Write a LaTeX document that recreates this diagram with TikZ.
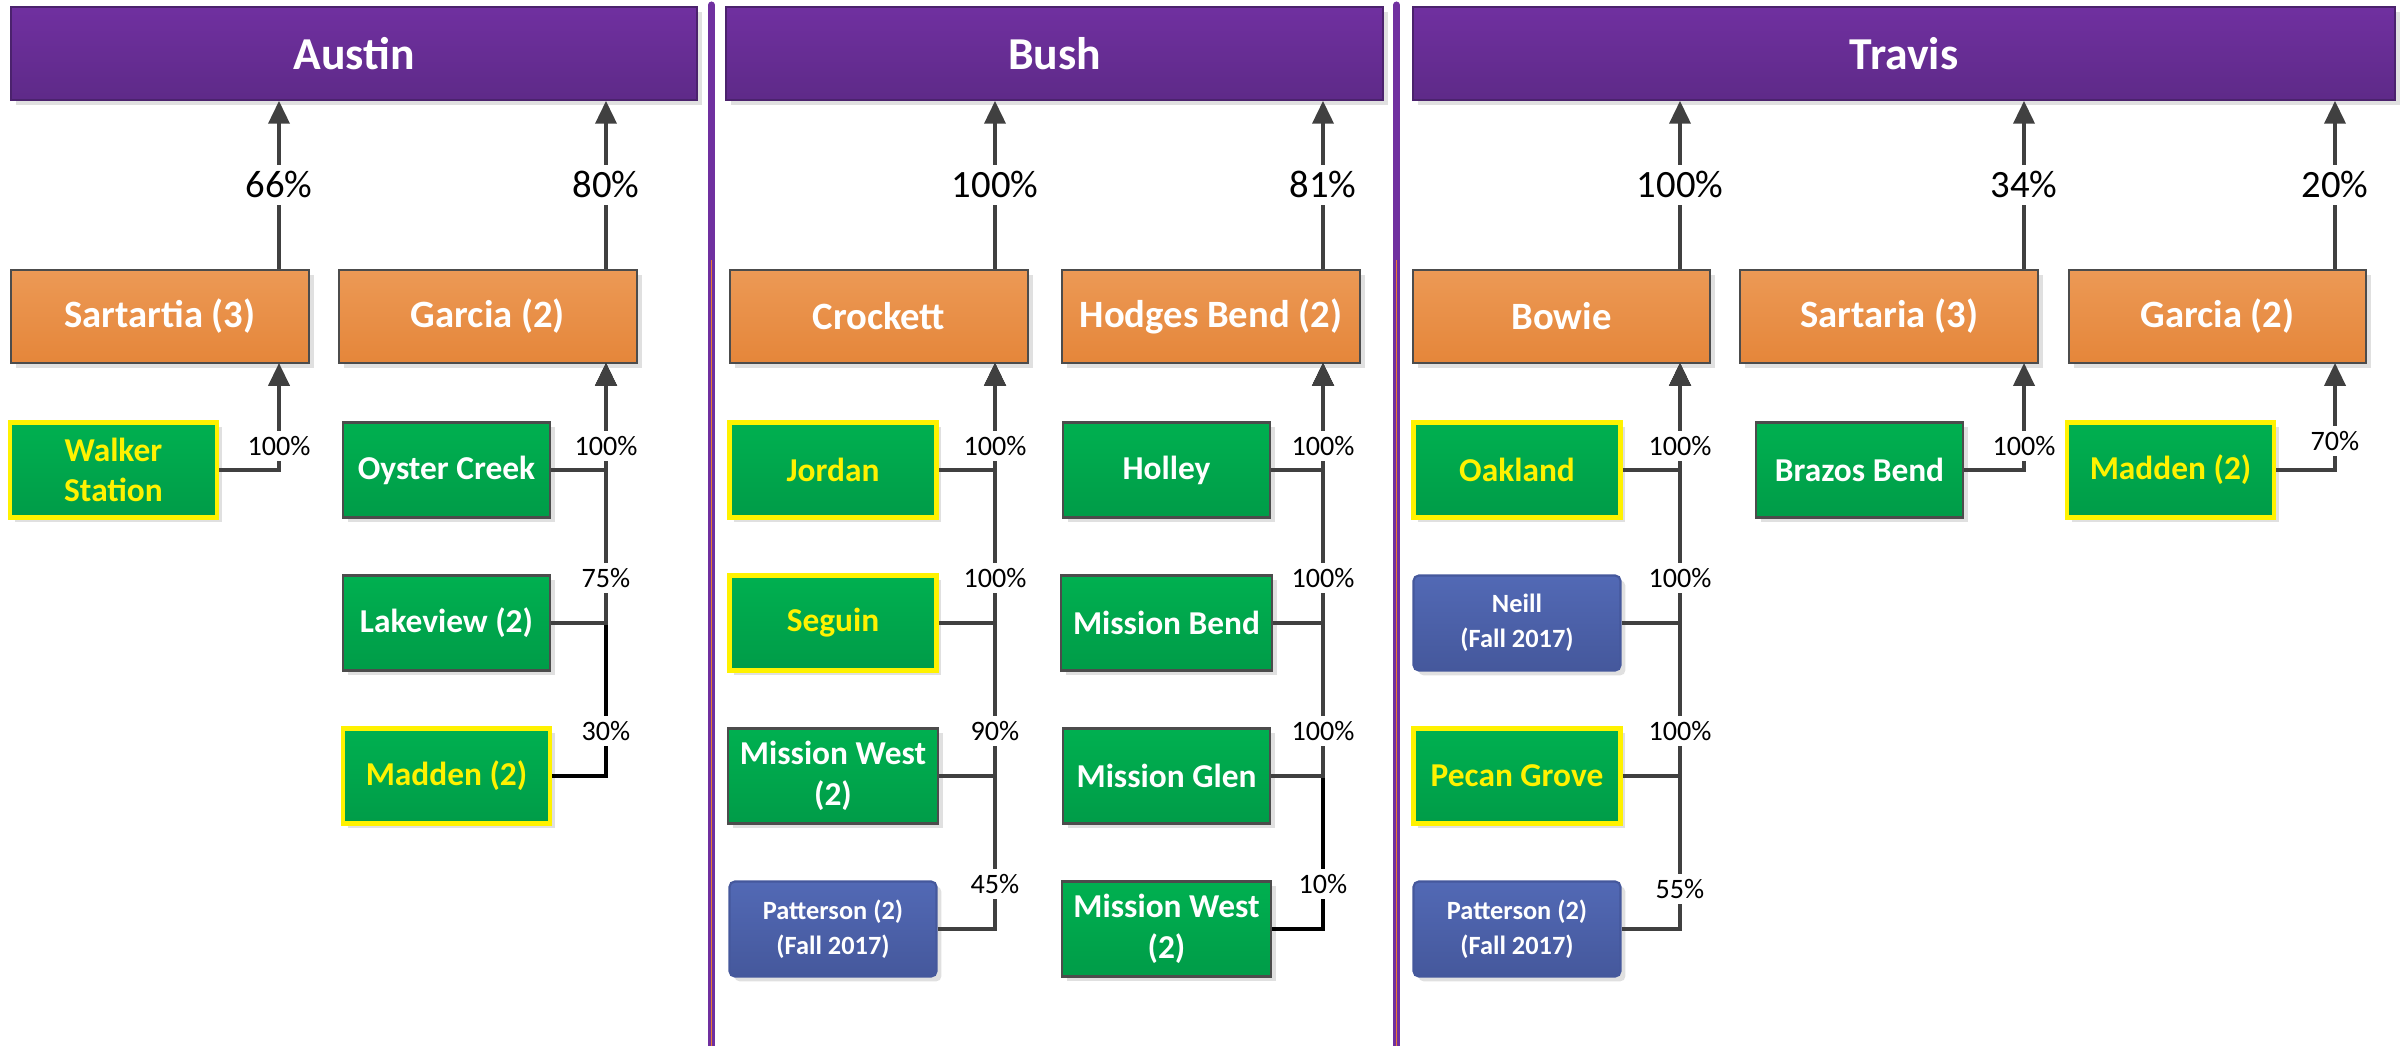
\documentclass[tikz,border=0pt]{standalone}
\usepackage{fontspec}
\setmainfont{Carlito}
\usetikzlibrary{arrows.meta,shadows,calc}

\definecolor{hdrtop}{HTML}{7030A0}
\definecolor{hdrbot}{HTML}{5E2A88}
\definecolor{midtop}{HTML}{EC9955}
\definecolor{midbot}{HTML}{E5863A}
\definecolor{elemtop}{HTML}{00B050}
\definecolor{elembot}{HTML}{009C48}
\definecolor{newtop}{HTML}{5269B5}
\definecolor{newbot}{HTML}{45589C}
\definecolor{linkgray}{HTML}{404040}
\definecolor{divorange}{HTML}{ED7D31}

\tikzset{
  boxshadow/.style={drop shadow={shadow xshift=1.4pt, shadow yshift=-1.4pt, fill=black!12, opacity=1}},
  district/.style={rectangle, draw=hdrbot!80!black, line width=0.5pt, top color=hdrtop, bottom color=hdrbot,
    minimum height=0.93cm, text=white, font=\bfseries\fontsize{13}{15}\selectfont, boxshadow},
  middle/.style={rectangle, draw=black!70, line width=0.6pt, top color=midtop, bottom color=midbot,
    minimum width=2.98cm, minimum height=0.93cm, text=white, font=\bfseries\fontsize{11}{13}\selectfont, boxshadow},
  elem/.style={rectangle, draw=black!70, line width=0.6pt, top color=elemtop, bottom color=elembot,
    minimum width=2.07cm, minimum height=0.95cm, text=white, align=center,
    font=\bfseries\fontsize{9.5}{11.5}\selectfont, boxshadow},
  elemhi/.style={elem, draw=yellow, line width=1.3pt, text=yellow},
  elemnew/.style={elem, draw=newbot, rounded corners=1.5pt, top color=newtop, bottom color=newbot,
    font=\bfseries\fontsize{7.5}{10}\selectfont},
  link/.style={draw=linkgray, line width=1pt, -{Triangle[length=6.5pt,width=6pt]}},
  divider/.style={draw=hdrtop, line width=2pt, line cap=round},
  pct/.style={fill=white, inner sep=1.5pt, font=\fontsize{8}{9}\selectfont},
  bigpct/.style={fill=white, inner sep=2pt, font=\fontsize{11}{13}\selectfont}
}

\begin{document}
\begin{tikzpicture}[node distance=1.53cm]
    \useasboundingbox (0,0) rectangle (24.02,-10.45);

    % Separators between districts
    \draw[divider] (7.115,-0.05) -- (7.115,-10.5);
    \draw[divider] (13.965,-0.05) -- (13.965,-10.5);
    \draw[divorange, line width=0.4pt] (7.115,-2.6) -- (7.115,-10.5);
    \draw[divorange, line width=0.4pt] (13.965,-2.6) -- (13.965,-10.5);

    % Districts
    \node[district, minimum width=6.86cm] (austin) at (3.54,-0.535) {Austin};
    \node[district, minimum width=6.57cm] (bush) at (10.545,-0.535) {Bush};
    \node[district, minimum width=9.82cm] (travis) at (19.04,-0.535) {Travis};

    % Middle schools
    \node[middle] (sartartia) at (1.60,-3.165) {Sartartia (3)};
    \node[middle] (garciaA) at (4.88,-3.165) {Garcia (2)};
    \node[middle] (crockett) at (8.79,-3.165) {Crockett};
    \node[middle] (hodges) at (12.11,-3.165) {Hodges Bend (2)};
    \node[middle, minimum width=2.97cm] (bowie) at (15.615,-3.165) {Bowie};
    \node[middle] (sartaria) at (18.89,-3.165) {Sartaria (3)};
    \node[middle, minimum width=2.97cm] (garciaT) at (22.175,-3.165) {Garcia (2)};

    % Where the feeder lines meet the middle schools
    \coordinate (sarA) at (2.79,-3.63);
    \coordinate (garA) at (6.06,-3.63);
    \coordinate (crkB) at (9.95,-3.63);
    \coordinate (hodB) at (13.23,-3.63);
    \coordinate (bowT) at (16.80,-3.63);
    \coordinate (sarT) at (20.24,-3.63);
    \coordinate (garT) at (23.35,-3.63);

    % Elementary schools - Austin
    \node[elemhi] (walker) at (1.135,-4.70) {Walker\\Station};
    \node[elem] (oyster) at (4.465,-4.70) {Oyster Creek};
    \node[elem, below of=oyster] (lakeview) {Lakeview (2)};
    \node[elemhi, below of=lakeview] (maddenA) {Madden (2)};

    % Elementary schools - Bush
    \node[elemhi] (jordan) at (8.33,-4.70) {Jordan};
    \node[elemhi, below of=jordan] (seguin) {Seguin};
    \node[elem, below of=seguin] (mwestA) {Mission West\\(2)};
    \node[elemnew, below of=mwestA] (pattB) {Patterson (2)\\(Fall 2017)};
    \node[elem] (holley) at (11.665,-4.70) {Holley};
    \node[elem, below of=holley] (mbend) {Mission Bend};
    \node[elem, below of=mbend] (mglen) {Mission Glen};
    \node[elem, below of=mglen] (mwestB) {Mission West\\(2)};

    % Elementary schools - Travis
    \node[elemhi] (oakland) at (15.17,-4.70) {Oakland};
    \node[elemnew, below of=oakland] (neill) {Neill\\(Fall 2017)};
    \node[elemhi, below of=neill] (pecan) {Pecan Grove};
    \node[elemnew, below of=pecan] (pattT) {Patterson (2)\\(Fall 2017)};
    \node[elem] (brazos) at (18.595,-4.70) {Brazos Bend};
    \node[elemhi] (maddenT) at (21.705,-4.70) {Madden (2)};

    % Middle to district
    \draw[link] (sartartia.north -| sarA) -- (austin.south -| sarA);
    \draw[link] (garciaA.north -| garA) -- (austin.south -| garA);
    \draw[link] (crockett.north -| crkB) -- (bush.south -| crkB);
    \draw[link] (hodges.north -| hodB) -- (bush.south -| hodB);
    \draw[link] (bowie.north -| bowT) -- (travis.south -| bowT);
    \draw[link] (sartaria.north -| sarT) -- (travis.south -| sarT);
    \draw[link] (garciaT.north -| garT) -- (travis.south -| garT);

    % Elementary to middle
    \draw[link] (walker.east) -| (sarA);
    \draw[link, draw=black] (maddenA.east) -| (garA);
    \draw[link] (lakeview.east) -| (garA);
    \draw[link] (oyster.east) -| (garA);
    \draw[link] (pattB.east) -| (crkB);
    \draw[link] (mwestA.east) -| (crkB);
    \draw[link] (seguin.east) -| (crkB);
    \draw[link] (jordan.east) -| (crkB);
    \draw[link, draw=black] (mwestB.east) -| (hodB);
    \draw[link] (mglen.east) -| (hodB);
    \draw[link] (mbend.east) -| (hodB);
    \draw[link] (holley.east) -| (hodB);
    \draw[link] (pattT.east) -| (bowT);
    \draw[link] (pecan.east) -| (bowT);
    \draw[link] (neill.east) -| (bowT);
    \draw[link] (oakland.east) -| (bowT);
    \draw[link] (brazos.east) -| (sarT);
    \draw[link] (maddenT.east) -| (garT);

    % Percentages
    \node[bigpct] (p-sartartia) at ($(sartartia.north -| sarA)!0.5!(austin.south -| sarA)$) {66\%};
    \node[bigpct] (p-garciaA) at ($(garciaA.north -| garA)!0.5!(austin.south -| garA)$) {80\%};
    \node[bigpct] (p-crockett) at ($(crockett.north -| crkB)!0.5!(bush.south -| crkB)$) {100\%};
    \node[bigpct] (p-hodges) at ($(hodges.north -| hodB)!0.5!(bush.south -| hodB)$) {81\%};
    \node[bigpct] (p-bowie) at ($(bowie.north -| bowT)!0.5!(travis.south -| bowT)$) {100\%};
    \node[bigpct] (p-sartaria) at ($(sartaria.north -| sarT)!0.5!(travis.south -| sarT)$) {34\%};
    \node[bigpct] (p-garciaT) at ($(garciaT.north -| garT)!0.5!(travis.south -| garT)$) {20\%};

    \node[pct, yshift=0.24cm] (p-walker) at (walker.east -| sarA) {100\%};
    \node[pct, yshift=0.24cm] (p-oyster) at (oyster.east -| garA) {100\%};
    \node[pct, yshift=0.45cm] (p-lakeview) at (lakeview.east -| garA) {75\%};
    \node[pct, yshift=0.45cm] (p-maddenA) at (maddenA.east -| garA) {30\%};
    \node[pct, yshift=0.24cm] (p-jordan) at (jordan.east -| crkB) {100\%};
    \node[pct, yshift=0.45cm] (p-seguin) at (seguin.east -| crkB) {100\%};
    \node[pct, yshift=0.45cm] (p-mwestA) at (mwestA.east -| crkB) {90\%};
    \node[pct, yshift=0.45cm] (p-pattB) at (pattB.east -| crkB) {45\%};
    \node[pct, yshift=0.24cm] (p-holley) at (holley.east -| hodB) {100\%};
    \node[pct, yshift=0.45cm] (p-mbend) at (mbend.east -| hodB) {100\%};
    \node[pct, yshift=0.45cm] (p-mglen) at (mglen.east -| hodB) {100\%};
    \node[pct, yshift=0.45cm] (p-mwestB) at (mwestB.east -| hodB) {10\%};
    \node[pct, yshift=0.24cm] (p-oakland) at (oakland.east -| bowT) {100\%};
    \node[pct, yshift=0.45cm] (p-neill) at (neill.east -| bowT) {100\%};
    \node[pct, yshift=0.45cm] (p-pecan) at (pecan.east -| bowT) {100\%};
    \node[pct, yshift=0.40cm] (p-pattT) at (pattT.east -| bowT) {55\%};
    \node[pct, yshift=0.24cm] (p-brazos) at (brazos.east -| sarT) {100\%};
    \node[pct, yshift=0.29cm] (p-maddenT) at (maddenT.east -| garT) {70\%};
\end{tikzpicture}
\end{document}
